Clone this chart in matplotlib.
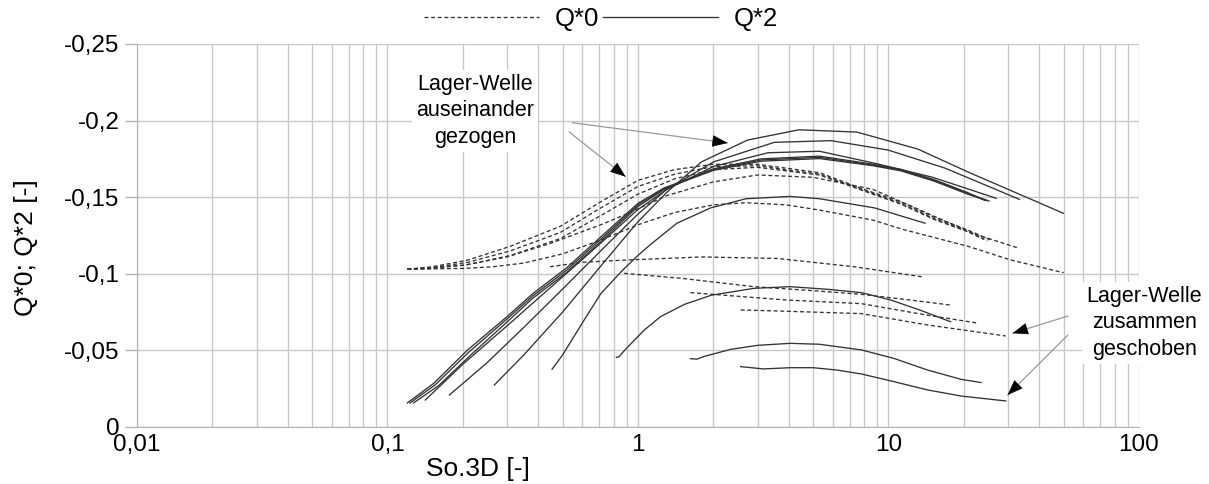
import matplotlib
matplotlib.use("Agg")
import matplotlib.pyplot as plt
from matplotlib.lines import Line2D
from matplotlib.ticker import FixedLocator, FuncFormatter, LogLocator, NullFormatter

plt.rcParams["font.family"] = ["Liberation Sans", "DejaVu Sans"]

# Q*0 curves (dashed)
q0_a_x = [0.12, 0.15, 0.21, 0.31, 0.49, 0.71, 1.0, 1.4, 2.0, 3.0, 5.3, 8.0, 11.2, 15.2, 20.7, 25.6]
q0_a_y = [-0.103, -0.1045, -0.109, -0.118, -0.131, -0.147, -0.161, -0.168, -0.1715, -0.1715, -0.166, -0.155, -0.147, -0.137, -0.1286, -0.122]
q0_b_x = [0.12, 0.15, 0.21, 0.31, 0.49, 0.71, 1.0, 1.4, 2.0, 3.0, 5.3, 8.0, 11.2, 15.2, 20.7, 24.8]
q0_b_y = [-0.103, -0.104, -0.1075, -0.115, -0.127, -0.143, -0.157, -0.165, -0.170, -0.1705, -0.165, -0.1545, -0.146, -0.136, -0.128, -0.1215]
q0_c_x = [0.12, 0.15, 0.21, 0.31, 0.49, 0.71, 1.0, 1.4, 2.0, 3.0, 5.3, 8.0, 11.2, 15.2, 20.7, 24.0]
q0_c_y = [-0.103, -0.1035, -0.106, -0.112, -0.123, -0.138, -0.152, -0.162, -0.168, -0.1695, -0.1645, -0.154, -0.1455, -0.1355, -0.1275, -0.1225]
q0_d_x = [0.12, 0.2, 0.3, 0.45, 0.71, 0.9, 1.3, 2.0, 3.0, 5.0, 8.7, 15.0, 22.0, 33.3]
q0_d_y = [-0.103, -0.1055, -0.111, -0.12, -0.132, -0.139, -0.151, -0.160, -0.1645, -0.163, -0.155, -0.138, -0.126, -0.1166]
q0_e_x = [0.12, 0.2, 0.26, 0.35, 0.5, 0.71, 1.0, 1.4, 2.0, 2.7, 3.9, 5.3, 8.7, 11.4, 20.7, 30.8, 50.0]
q0_e_y = [-0.103, -0.1035, -0.1045, -0.107, -0.113, -0.122, -0.132, -0.140, -0.145, -0.1464, -0.145, -0.1416, -0.135, -0.129, -0.118, -0.109, -0.1007]
q0_f_x = [0.445, 0.6, 0.9, 1.8, 3.6, 7.3, 13.7]
q0_f_y = [-0.1046, -0.1075, -0.109, -0.111, -0.110, -0.1046, -0.098]
q0_g_x = [0.88, 1.5, 2.9, 5.0, 7.8, 12.0, 17.7]
q0_g_y = [-0.1003, -0.097, -0.0916, -0.089, -0.0866, -0.083, -0.0796]
q0_h_x = [1.62, 3.9, 7.8, 14.3, 22.9]
q0_h_y = [-0.0877, -0.0829, -0.0805, -0.073, -0.0677]
q0_i_x = [2.57, 4.0, 7.8, 14.3, 29.4]
q0_i_y = [-0.0764, -0.0755, -0.074, -0.0666, -0.0594]

# Q*2 curves (solid)
q2_a_x = [0.12, 0.153, 0.208, 0.3, 0.38, 0.52, 0.71, 1.0, 1.27, 2.0, 3.1, 5.3, 8.7, 11.2, 15.2, 20.7, 25.2]
q2_a_y = [-0.0157, -0.0285, -0.050, -0.072, -0.087, -0.104, -0.124, -0.146, -0.156, -0.168, -0.1743, -0.176, -0.171, -0.1677, -0.161, -0.1525, -0.1475]
q2_b_x = [0.123, 0.155, 0.21, 0.3, 0.38, 0.52, 0.71, 1.0, 1.27, 2.0, 3.1, 5.3, 8.7, 11.2, 15.2, 20.7, 24.6]
q2_b_y = [-0.0157, -0.0275, -0.0485, -0.0705, -0.0855, -0.1025, -0.1225, -0.145, -0.1555, -0.1675, -0.1735, -0.1752, -0.1705, -0.1672, -0.1605, -0.152, -0.1478]
q2_c_x = [0.127, 0.16, 0.215, 0.3, 0.38, 0.52, 0.71, 1.0, 1.27, 2.0, 3.1, 5.3, 8.7, 11.2, 15.2, 20.7, 24.2]
q2_c_y = [-0.0157, -0.027, -0.047, -0.0685, -0.084, -0.101, -0.121, -0.144, -0.155, -0.1685, -0.175, -0.1768, -0.1715, -0.1682, -0.1615, -0.153, -0.148]
q2_d_x = [0.1416, 0.2, 0.3, 0.5, 0.71, 1.0, 1.3, 2.0, 3.3, 5.3, 8.9, 15.0, 26.9]
q2_d_y = [-0.0176, -0.041, -0.066, -0.098, -0.120, -0.142, -0.155, -0.170, -0.179, -0.180, -0.172, -0.163, -0.1493]
q2_e_x = [0.1767, 0.25, 0.35, 0.5, 0.71, 1.0, 1.3, 2.0, 3.5, 5.9, 9.95, 16.8, 33.3]
q2_e_y = [-0.0209, -0.042, -0.065, -0.090, -0.115, -0.139, -0.155, -0.173, -0.1858, -0.1869, -0.1808, -0.169, -0.1486]
q2_f_x = [0.267, 0.35, 0.5, 0.71, 1.0, 1.3, 1.79, 2.74, 4.39, 7.48, 13.1, 20.8, 49.9]
q2_f_y = [-0.0274, -0.047, -0.075, -0.105, -0.134, -0.153, -0.173, -0.1873, -0.194, -0.1925, -0.1814, -0.1664, -0.1395]
q2_g_x = [0.454, 0.5, 0.6, 0.71, 0.87, 1.0, 1.12, 1.43, 1.95, 2.7, 4.05, 5.3, 8.8, 14.0]
q2_g_y = [-0.0377, -0.047, -0.068, -0.087, -0.1025, -0.112, -0.119, -0.133, -0.143, -0.149, -0.1505, -0.149, -0.143, -0.133]
q2_h_x = [0.82, 0.837, 0.9, 1.06, 1.23, 1.53, 1.96, 2.9, 4.05, 5.7, 7.8, 10.2, 13.3, 17.7]
q2_h_y = [-0.0455, -0.0457, -0.0514, -0.0633, -0.072, -0.080, -0.086, -0.0905, -0.0916, -0.0899, -0.0877, -0.0829, -0.0764, -0.0687]
q2_i_x = [1.62, 1.72, 1.85, 2.35, 3.0, 4.05, 5.3, 7.8, 10.5, 14.3, 19.5, 23.4]
q2_i_y = [-0.0446, -0.0443, -0.0462, -0.0507, -0.0533, -0.0546, -0.054, -0.0503, -0.0448, -0.0372, -0.0311, -0.029]
q2_j_x = [2.57, 3.17, 4.05, 5.0, 6.2, 7.8, 10.5, 14.3, 19.5, 29.4]
q2_j_y = [-0.0394, -0.0379, -0.0387, -0.0387, -0.0372, -0.0346, -0.0296, -0.0242, -0.0202, -0.017]

q0_curves = [(q0_a_x, q0_a_y), (q0_b_x, q0_b_y), (q0_c_x, q0_c_y), (q0_d_x, q0_d_y), (q0_e_x, q0_e_y),
             (q0_f_x, q0_f_y), (q0_g_x, q0_g_y), (q0_h_x, q0_h_y), (q0_i_x, q0_i_y)]
q2_curves = [(q2_a_x, q2_a_y), (q2_b_x, q2_b_y), (q2_c_x, q2_c_y), (q2_d_x, q2_d_y), (q2_e_x, q2_e_y),
             (q2_f_x, q2_f_y), (q2_g_x, q2_g_y), (q2_h_x, q2_h_y), (q2_i_x, q2_i_y), (q2_j_x, q2_j_y)]

y_ticks = [0, -0.05, -0.1, -0.15, -0.2, -0.25]
x_ticks = [0.01, 0.1, 1, 10, 100]

fig = plt.figure(figsize=(12.09, 4.84), dpi=100)
ax = fig.add_axes([0.1133, 0.1178, 0.8288, 0.7913])

dash = (0, (3, 2))
for x, y in q0_curves:
    ax.plot(x, y, color="#333333", lw=0.95, linestyle=dash)
for x, y in q2_curves:
    ax.plot(x, y, color="#333333", lw=0.95)

ax.set_xscale("log")
ax.set_xlim(0.01, 100)
ax.set_ylim(0, -0.25)
ax.xaxis.set_major_locator(FixedLocator(x_ticks))
ax.xaxis.set_minor_locator(LogLocator(base=10, subs=range(2, 10)))
ax.xaxis.set_minor_formatter(NullFormatter())
ax.xaxis.set_major_formatter(FuncFormatter(lambda v, p: f"{v:g}".replace(".", ",")))
ax.yaxis.set_major_locator(FixedLocator(y_ticks))
ax.yaxis.set_major_formatter(FuncFormatter(lambda v, p: "0" if v == 0 else f"{v:g}".replace(".", ",")))

ax.grid(True, which="both", axis="x", color="#c8c8c8", lw=1.0)
ax.grid(True, which="major", axis="y", color="#c8c8c8", lw=1.0)
ax.set_axisbelow(True)
for s in ["top", "right"]:
    ax.spines[s].set_visible(False)
for s in ["left", "bottom"]:
    ax.spines[s].set_color("#b3b3b3")
ax.tick_params(axis="y", which="major", length=8.5, width=1, color="#b3b3b3", labelsize=17.5, pad=4)
ax.tick_params(axis="x", which="major", length=0, labelsize=17.5, pad=5)
ax.tick_params(axis="x", which="minor", length=0)

fig.text(26 / 1209, 1 - 248 / 484, "Q*0; Q*2 [-]", rotation=90, ha="center", va="center", fontsize=19)
fig.text(478 / 1209, 1 - 469 / 484, "So.3D [-]", ha="center", va="center", fontsize=19)

handles = [Line2D([], [], color="#333333", lw=0.95, linestyle=dash),
           Line2D([], [], color="#333333", lw=0.95)]
fig.legend(handles, ["Q*0", "Q*2"], loc="center", bbox_to_anchor=(0.497, 0.961), ncol=2,
           frameon=False, fontsize=18.5, handlelength=4.5, handletextpad=0.6, columnspacing=0.15)

# annotations
box = dict(facecolor="white", edgecolor="none", pad=3)
ax.text(0.224, -0.2063, "Lager-Welle\nauseinander\ngezogen", ha="center", va="center",
        fontsize=15.5, linespacing=1.32, bbox=box)
ax.text(105, -0.0679, "Lager-Welle\nzusammen\ngeschoben", ha="center", va="center",
        fontsize=15.5, linespacing=1.32, bbox=box, clip_on=False)

arrows = [((0.546, -0.1986), (2.28, -0.1854)), ((0.53, -0.1927), (0.892, -0.1634)),
          ((52, -0.0724), (31.3, -0.0612)), ((52, -0.060), (29.9, -0.0209))]
for tail, tip in arrows:
    ax.annotate("", xy=tip, xytext=tail,
                arrowprops=dict(arrowstyle="-", color="#999999", lw=0.9, shrinkA=0, shrinkB=0))
    # short black head at the tip
    hx = tail[0] ** 0.06 * tip[0] ** 0.94
    hy = tail[1] * 0.06 + tip[1] * 0.94
    ax.annotate("", xy=tip, xytext=(hx, hy),
                arrowprops=dict(arrowstyle="-|>,head_length=1.0,head_width=0.38", color="black",
                                lw=0.5, shrinkA=0, shrinkB=0))

fig.savefig("out.png", dpi=100)
